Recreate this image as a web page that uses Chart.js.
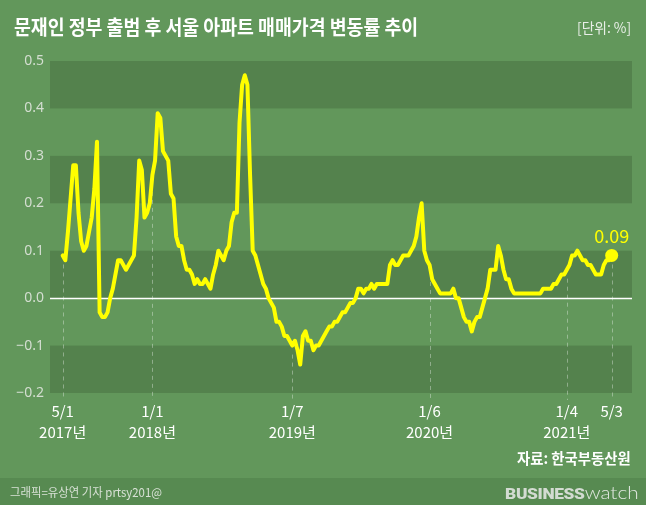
<!DOCTYPE html>
<html>
<head>
<meta charset="utf-8">
<script src="https://cdn.jsdelivr.net/npm/chart.js@4"></script>
<style>
  html, body { margin: 0; padding: 0; }
  body { width: 646px; height: 505px; background: #62975b; overflow: hidden; position: relative;
         font-family: "Noto Sans CJK KR", "Noto Sans", sans-serif; }
  #chart { position: absolute; left: 0; top: 0; }
  .txt { position: absolute; white-space: nowrap; line-height: 1; }
  #title { left: 14px; top: 17px; font-size: 20px; font-weight: 700; color: #fff; transform-origin: left center; }
  #unit { right: 15px; top: 20px; font-size: 14px; color: #e9efe8; transform-origin: right center; }
  #source { right: 15px; top: 450px; font-size: 15px; font-weight: 700; color: #fff; transform-origin: right center; }
  #footer { position: absolute; left: 0; top: 478px; width: 646px; height: 27px; background: #578a51; }
  #credit { left: 10px; top: 486px; font-size: 12px; color: #d8e1d6; transform-origin: left center; }
  #logo { right: 7px; top: 483px; font-size: 15px; color: #d3dbd2; transform-origin: right center; }
  #logo b { font-family: Roboto, sans-serif; font-weight: 900; letter-spacing: -0.3px; }
  #logo span { font-family: Lato, sans-serif; font-weight: 300; font-size: 18px; color: #e2e8e1; }
</style>
</head>
<body>
<div id="footer"></div>
<canvas id="chart" width="646" height="505"></canvas>
<div class="txt" id="title">문재인 정부 출범 후 서울 아파트 매매가격 변동률 추이</div>
<div class="txt" id="unit">[단위: %]</div>
<div class="txt" id="source">자료: 한국부동산원</div>
<div class="txt" id="credit">그래픽=유상연 기자 prtsy201@</div>
<div class="txt" id="logo"><b>BUSINESS</b><span>watch</span></div>
<script>
// weekly change (%), 2017-05-01 .. 2021-05-03
const values = [
  0.09, 0.08, 0.14, 0.21, 0.28, 0.28, 0.18, 0.12, 0.10, 0.11,
  0.14, 0.17, 0.23, 0.33, -0.03, -0.04, -0.04, -0.03, 0.00, 0.02,
  0.05, 0.08, 0.08, 0.07, 0.06, 0.07, 0.08, 0.09, 0.17, 0.29,
  0.27, 0.17, 0.18, 0.20, 0.26, 0.29, 0.39, 0.38, 0.31, 0.30,
  0.29, 0.22, 0.21, 0.13, 0.11, 0.11, 0.08, 0.06, 0.06, 0.05,
  0.03, 0.04, 0.03, 0.03, 0.04, 0.03, 0.02, 0.05, 0.07, 0.10,
  0.09, 0.08, 0.10, 0.11, 0.16, 0.18, 0.18, 0.37, 0.45, 0.47,
  0.45, 0.26, 0.10, 0.09, 0.07, 0.05, 0.03, 0.02, 0.00, -0.01,
  -0.02, -0.05, -0.05, -0.06, -0.08, -0.08, -0.09, -0.10, -0.09, -0.11,
  -0.14, -0.08, -0.07, -0.09, -0.09, -0.11, -0.10, -0.10, -0.09, -0.08,
  -0.07, -0.06, -0.06, -0.05, -0.05, -0.04, -0.03, -0.03, -0.02, -0.01,
  -0.01, 0.00, 0.02, 0.02, 0.01, 0.02, 0.02, 0.03, 0.02, 0.03,
  0.03, 0.03, 0.03, 0.03, 0.07, 0.08, 0.07, 0.07, 0.08, 0.09,
  0.09, 0.09, 0.10, 0.11, 0.13, 0.17, 0.20, 0.10, 0.08, 0.07,
  0.04, 0.03, 0.02, 0.01, 0.01, 0.01, 0.01, 0.01, 0.02, 0.00,
  0.00, -0.02, -0.04, -0.05, -0.05, -0.07, -0.05, -0.04, -0.04, -0.02,
  0.00, 0.02, 0.06, 0.06, 0.06, 0.11, 0.09, 0.06, 0.04, 0.04,
  0.02, 0.01, 0.01, 0.01, 0.01, 0.01, 0.01, 0.01, 0.01, 0.01,
  0.01, 0.01, 0.02, 0.02, 0.02, 0.02, 0.03, 0.03, 0.04, 0.05,
  0.05, 0.06, 0.07, 0.09, 0.09, 0.10, 0.09, 0.08, 0.08, 0.07,
  0.07, 0.06, 0.05, 0.05, 0.05, 0.07, 0.08, 0.08, 0.09
];
const weeks = values.map((v, i) => i);

// labelled weeks on the x axis
const tickIndex = [0, 34, 87, 139, 191, 208];
const tickLabels = [['5/1', '2017년'], ['1/1', '2018년'], ['1/7', '2019년'], ['1/6', '2020년'], ['1/4', '2021년'], ['5/3']];
const yTicks = [-0.2, -0.1, 0, 0.1, 0.2, 0.3, 0.4, 0.5];

const YELLOW = '#ffff00';
const BAND = '#54824d';

function fmt(v) {
  return (v < 0 ? '\u2212' : '') + Math.abs(v).toFixed(1);
}

const decor = {
  id: 'decor',
  beforeDatasetsDraw(chart) {
    const { ctx, chartArea: a, scales: { x, y } } = chart;
    ctx.save();
    for (let k = 0; k < yTicks.length - 1; k++) {
      if (Math.round(yTicks[k] * 10) % 2 !== 0) continue;
      const top = y.getPixelForValue(yTicks[k + 1]);
      const bot = y.getPixelForValue(yTicks[k]);
      ctx.fillStyle = BAND;
      ctx.fillRect(a.left, top, a.right - a.left, bot - top);
    }
    // zero line
    const y0 = Math.round(y.getPixelForValue(0)) + 0.5;
    ctx.strokeStyle = '#ffffff';
    ctx.lineWidth = 1.5;
    ctx.beginPath();
    ctx.moveTo(a.left, y0);
    ctx.lineTo(a.right, y0);
    ctx.stroke();
    // dashed drop lines at labelled weeks
    ctx.strokeStyle = 'rgba(255,255,255,0.35)';
    ctx.lineWidth = 1;
    ctx.setLineDash([4, 4]);
    tickIndex.forEach(i => {
      const px = Math.round(x.getPixelForValue(i)) + 0.5;
      const py = y.getPixelForValue(values[i]) + 9;
      ctx.beginPath();
      ctx.moveTo(px, py);
      ctx.lineTo(px, a.bottom + 7);
      ctx.stroke();
    });
    ctx.restore();
  },
  afterDatasetsDraw(chart) {
    const { ctx, scales: { x, y } } = chart;
    const last = values.length - 1;
    ctx.save();
    ctx.fillStyle = YELLOW;
    ctx.font = '18px "Noto Sans CJK KR", sans-serif';
    ctx.textAlign = 'center';
    ctx.textBaseline = 'middle';
    ctx.fillText(values[last].toFixed(2), x.getPixelForValue(last), y.getPixelForValue(values[last]) - 19);
    ctx.restore();
  }
};

new Chart(document.getElementById('chart'), {
  type: 'line',
  data: {
    datasets: [{
      data: weeks.map(i => ({ x: i, y: values[i] })),
      borderColor: YELLOW,
      borderWidth: 4,
      borderJoinStyle: 'round',
      borderCapStyle: 'round',
      tension: 0,
      pointRadius: c => (c.dataIndex === values.length - 1 ? 6.5 : 0),
      pointBackgroundColor: YELLOW,
      pointBorderWidth: 0,
      fill: false
    }]
  },
  options: {
    responsive: false,
    animation: false,
    events: [],
    layout: { padding: { top: 61, right: 14, left: 0, bottom: 0 } },
    plugins: { legend: { display: false }, tooltip: { enabled: false } },
    scales: {
      x: {
        type: 'linear',
        min: -4.8,
        max: 215.7,
        afterBuildTicks: s => { s.ticks = tickIndex.map(v => ({ value: v })); },
        afterFit: s => { s.height = 112; },
        grid: { display: false, drawTicks: false },
        border: { display: false },
        ticks: {
          autoSkip: false,
          maxRotation: 0,
          padding: 7,
          color: '#ffffff',
          font: { family: '"Noto Sans CJK KR", sans-serif', size: 15, lineHeight: 1.45 },
          callback: v => tickLabels[tickIndex.indexOf(v)]
        }
      },
      y: {
        min: -0.2,
        max: 0.5,
        afterBuildTicks: s => { s.ticks = yTicks.map(v => ({ value: v })); },
        afterFit: s => { s.width = 50; },
        grid: { display: false, drawTicks: false },
        border: { display: false },
        ticks: {
          padding: 6,
          color: '#d4ded1',
          font: { family: '"Noto Sans", sans-serif', size: 14 },
          callback: v => fmt(v)
        }
      }
    }
  },
  plugins: [decor]
});

// squeeze the condensed headline texts to the widths in the original
function fit(id, w) {
  const el = document.getElementById(id);
  el.style.transform = 'scaleX(' + (w / el.scrollWidth) + ')';
}
fit('title', 404);
fit('unit', 54);
fit('source', 114);
fit('credit', 152);
fit('logo', 134);
</script>
</body>
</html>
